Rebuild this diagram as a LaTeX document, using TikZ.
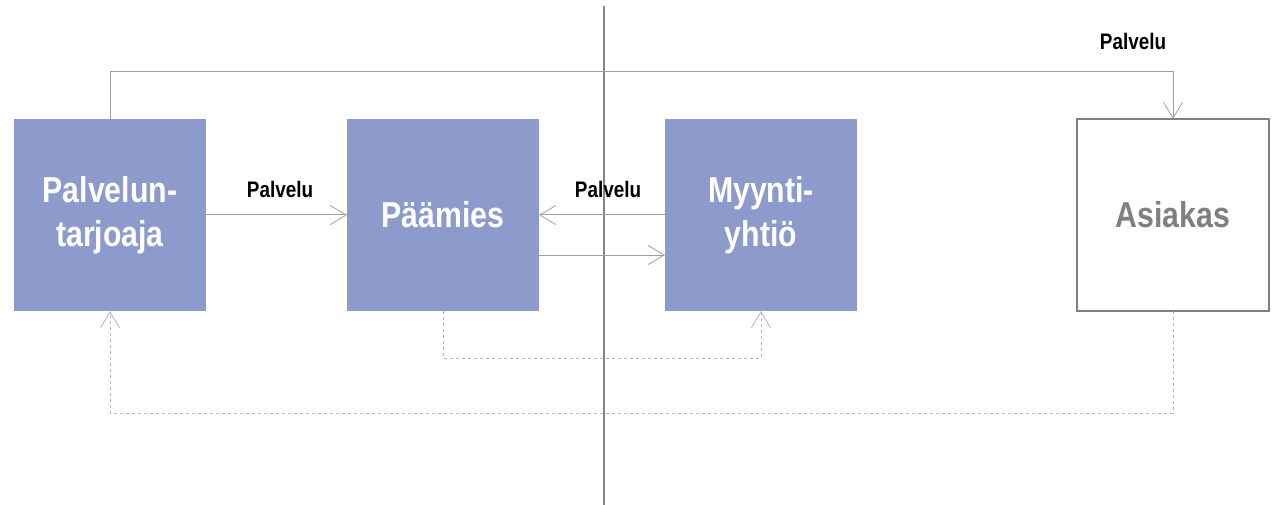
\documentclass[tikz,border=0pt]{standalone}
\usepackage{fontspec}
\setmainfont{Liberation Sans}[FakeStretch=0.84]
\usetikzlibrary{arrows.meta,calc}
\definecolor{boxblue}{HTML}{8C9BCB}
\definecolor{linegray}{HTML}{A0A0A0}
\definecolor{dotgray}{HTML}{B4B4B4}
\definecolor{divgray}{HTML}{858585}
\definecolor{txtgray}{HTML}{808080}
\begin{document}
\begin{tikzpicture}[x=1pt,y=-1pt,
  party/.style={minimum width=192pt,minimum height=192pt,inner sep=0pt,outer sep=0pt,
    align=center,font=\fontsize{36}{44}\selectfont\bfseries},
  bluebox/.style={party,fill=boxblue,text=white},
  custbox/.style={party,draw=txtgray,line width=2pt,fill=white,text=txtgray},
  conn/.style={draw=linegray,line width=1pt,-{Straight Barb[length=16pt,width=19pt,line width=0.8pt]}},
  dconn/.style={conn,draw=dotgray,dash pattern=on 3pt off 3pt},
  lbl/.style={font=\fontsize{22.5}{26}\selectfont\bfseries,text=black,inner sep=0pt}]
\useasboundingbox (0,0) rectangle (1274,505);
\node[bluebox] (pt) at (110,215) {Palvelun-\\tarjoaja};
\node[bluebox] (pm) at (443,215) {Päämies};
\node[bluebox] (my) at (761,215) {Myynti-\\yhtiö};
\node[custbox] (as) at (1173,215) {Asiakas};
\coordinate (dtop) at (604,6);
\coordinate (dbot) at (604,505);
\draw[divgray,line width=1.3pt] (dtop) -- (dbot);
\draw[conn] (pt.north) -- ++(0,-47) -| (as.north);
\draw[conn] (pt.east) -- (pm.west);
\draw[conn] (my.west) -- (pm.east);
\draw[conn] ($(pm.east)+(0,40)$) -- ($(my.west)+(0,40)$);
\draw[dconn] (pm.south) -- ++(0,47) -| (my.south);
\draw[dconn] (as.south) -- ++(0,102) -| (pt.south);
\node[lbl,anchor=base] (l1) at (280,198) {Palvelu};
\node[lbl,anchor=base] (l2) at (608,197) {Palvelu};
\node[lbl,anchor=base] (l3) at (1133,50) {Palvelu};
\end{tikzpicture}
\end{document}
